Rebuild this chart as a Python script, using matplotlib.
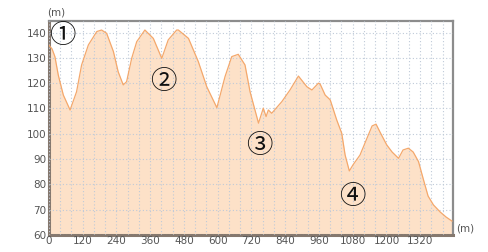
import matplotlib
matplotlib.use("Agg")
import matplotlib.pyplot as plt
from matplotlib.ticker import MultipleLocator

# distance (m) and elevation (m) read from the profile
distance = [0, 11, 21, 33, 51, 75, 98, 116, 140, 170, 187, 205, 229, 246, 264, 276,
            294, 312, 341, 371, 401, 424, 454, 460, 496, 531, 561, 597, 626, 650,
            673, 697, 715, 745, 762, 772, 780, 792, 828, 857, 887, 917, 935, 958,
            964, 982, 1000, 1023, 1041, 1053, 1068, 1081, 1106, 1128, 1149, 1163,
            1177, 1201, 1220, 1243, 1259, 1278, 1295, 1314, 1332, 1348, 1367, 1391,
            1412, 1433]
elevation = [135.0, 133.5, 130.5, 123.2, 115.3, 109.4, 116.6, 127.2, 135.1, 140.4, 141.0,
             139.7, 132.5, 124.5, 119.3, 120.6, 129.8, 136.4, 141.0, 137.7, 129.8, 137.1,
             141.0, 141.0, 137.7, 128.5, 118.6, 110.3, 122.6, 130.5, 131.4, 127.2, 116.6,
             104.2, 110.1, 106.8, 109.4, 108.1, 112.7, 117.3, 122.8, 118.6, 117.3, 120.0,
             119.7, 115.3, 113.4, 105.5, 100.2, 91.6, 85.3, 87.7, 91.6, 97.5, 103.1, 103.8,
             100.7, 95.6, 92.8, 90.3, 93.6, 94.3, 92.8, 89.0, 81.7, 75.4, 71.9, 69.1,
             67.1, 65.5]

x_ticks = [0, 120, 240, 360, 480, 600, 720, 840, 960, 1080, 1200, 1320]
y_ticks = [60, 70, 80, 90, 100, 110, 120, 130, 140]

markers = ["①", "②", "③", "④"]
marker_pos = [(46, 139.0), (405, 120.8), (747, 95.2), (1078, 75.4)]

fig = plt.figure(figsize=(4.88, 2.52), dpi=100)
ax = fig.add_axes([0.1004, 0.0675, 0.8275, 0.8505])

ax.fill_between(distance, 60, elevation, color="#fde1c8", zorder=1, linewidth=0)
ax.plot(distance, elevation, color="#f4a86c", linewidth=0.9, zorder=3)

ax.set_xlim(0, 1436)
ax.set_ylim(60, 144.7)
ax.set_xticks(x_ticks)
ax.set_yticks(y_ticks)
ax.xaxis.set_minor_locator(MultipleLocator(40))
ax.grid(which="both", axis="x", color="#bfcad8", linestyle=(0, (1, 2)), linewidth=0.8, zorder=2)
ax.grid(which="major", axis="y", color="#bfcad8", linestyle=(0, (1, 2)), linewidth=0.8, zorder=2)
ax.set_axisbelow(False)

ax.tick_params(which="both", length=0, labelsize=7.5, labelcolor="#555555", pad=2)
for lab in ax.get_xticklabels():
    lab.set_y(0.01)

for side in ["top", "right"]:
    ax.spines[side].set_color("#8c8c8c")
    ax.spines[side].set_linewidth(1.6)
for side in ["left", "bottom"]:
    ax.spines[side].set_color("#85786e")
    ax.spines[side].set_linewidth(2.2)

ax.text(-0.005, 1.015, "(m)", transform=ax.transAxes, fontsize=7.5, color="#555555",
        ha="left", va="bottom")
ax.text(1.008, 0.03, "(m)", transform=ax.transAxes, fontsize=7.5, color="#555555",
        ha="left", va="center")

for m, (px, py) in zip(markers, marker_pos):
    ax.text(px, py, m, fontsize=19, color="#111111", ha="center", va="center",
            family=["Noto Sans CJK JP", "DejaVu Sans"], zorder=5)

fig.savefig("out.png", dpi=100)
